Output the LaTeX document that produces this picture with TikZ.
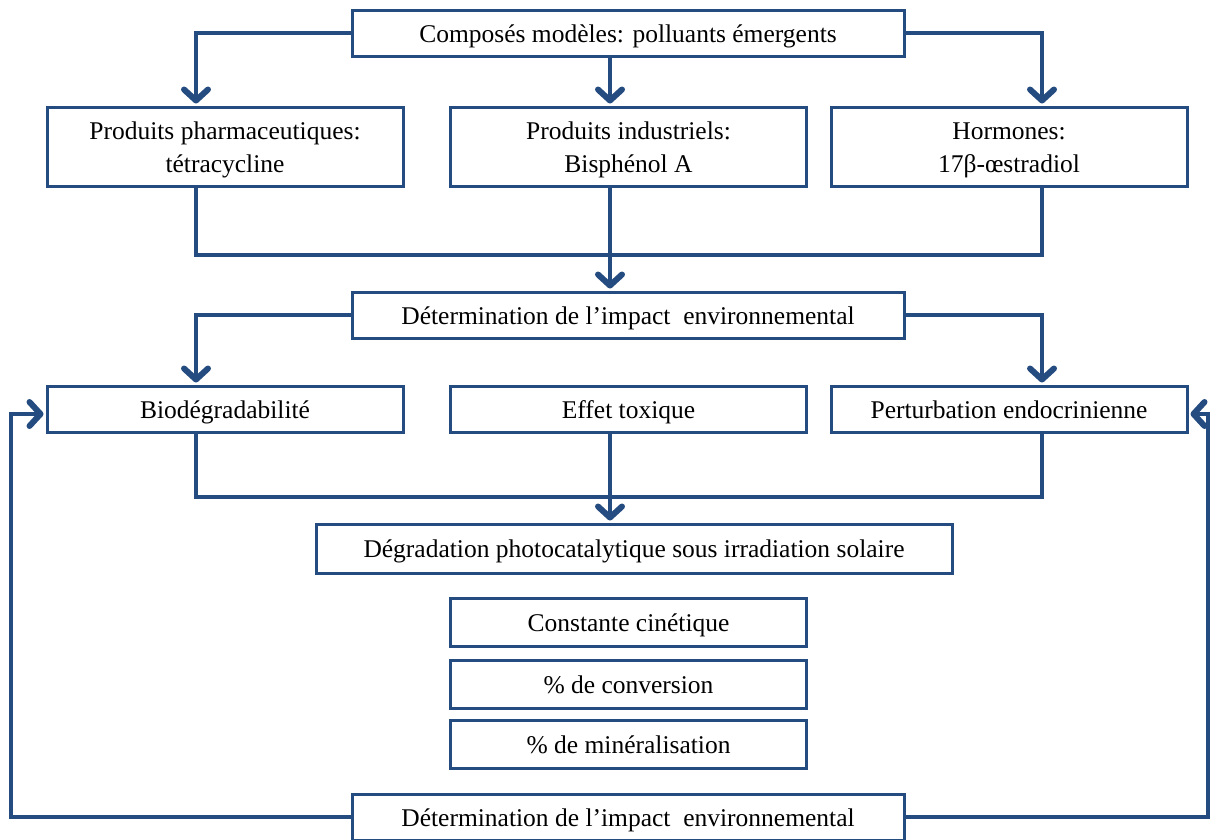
\documentclass[tikz,border=0pt]{standalone}
\usepackage{fontspec}
\setmainfont{Liberation Serif}
\usetikzlibrary{arrows.meta}
\definecolor{fleche}{RGB}{37,76,128}

\begin{document}
\begin{tikzpicture}
  [x=1pt,y=-1pt,
   every node/.style={draw=fleche,line width=3pt,align=center,inner sep=0pt,
     font=\fontsize{25.5}{33}\selectfont,text height=21pt,text depth=3pt},
   large/.style={minimum width=552pt,minimum height=46pt},
   colonne/.style={minimum width=356pt,minimum height=46pt},
   double/.style={colonne,minimum height=79pt,text height=57pt,text depth=6pt},
   lien/.style={draw=fleche,line width=4.4pt},
   fleche/.style={lien,-{Straight Barb[length=11pt,width=24pt,line width=6pt,round]},shorten >=2pt}]
  \useasboundingbox (0,0) rectangle (1212,839);
  % colonnes des connecteurs
  \coordinate (c1) at (196,0);
  \coordinate (c2) at (610,0);
  \coordinate (c3) at (1042,0);
  \coordinate (bus1) at (0,255);
  \coordinate (bus2) at (0,497);
  \coordinate (retourG) at (11,0);
  \coordinate (retourD) at (1208,0);
  % boites
  \node[large] (modeles) at (628,33) {Composés modèles: polluants émergents};
  \node[double] (pharma) at (225,146.5) {Produits pharmaceutiques:\\tétracycline};
  \node[double] (indus) at (628.5,146.5) {Produits industriels:\\Bisphénol A};
  \node[double] (hormones) at (1009,146.5) {Hormones:\\17β-œstradiol};
  \node[large] (impact) at (628,315) {Détermination de l’impact\ \ environnemental};
  \node[colonne] (biodeg) at (225,409) {Biodégradabilité};
  \node[colonne] (toxique) at (628.5,409) {Effet toxique};
  \node[colonne] (endo) at (1009,409) {Perturbation endocrinienne};
  \node[minimum width=636pt,minimum height=49pt] (photo) at (634,548.5) {Dégradation photocatalytique sous irradiation solaire};
  \node[colonne,minimum height=48pt] (cinetique) at (628.5,622) {Constante cinétique};
  \node[colonne,minimum height=48pt] (conversion) at (628.5,684) {\% de conversion};
  \node[colonne,minimum height=48pt] (mineral) at (628.5,744) {\% de minéralisation};
  \node[large] (impact2) at (628,817) {Détermination de l’impact\ \ environnemental};
  % fleches vers les boites
  \foreach \from/\col/\to in {modeles.west/c1/pharma,modeles.east/c3/hormones,
                              impact.west/c1/biodeg,impact.east/c3/endo}
    \draw[fleche] (\from) -| (\col |- \to.north);
  \draw[fleche] (c2 |- modeles.south) -- (c2 |- indus.north);
  \draw[fleche] (c2 |- indus.south) -- (c2 |- impact.north);
  \draw[fleche] (c2 |- toxique.south) -- (c2 |- photo.north);
  \foreach \a/\b/\bus in {pharma/hormones/bus1,biodeg/endo/bus2}
    \draw[lien] (c1 |- \a.south) |- (c3 |- \bus) -- (c3 |- \b.south);
  % retours
  \draw[fleche] (impact2.west) -| ([yshift=-5pt]retourG |- biodeg.west) -- ([yshift=-5pt]biodeg.west);
  \draw[fleche] (impact2.east) -| ([yshift=-5pt]retourD |- endo.east) -- ([yshift=-5pt]endo.east);
\end{tikzpicture}
\end{document}
